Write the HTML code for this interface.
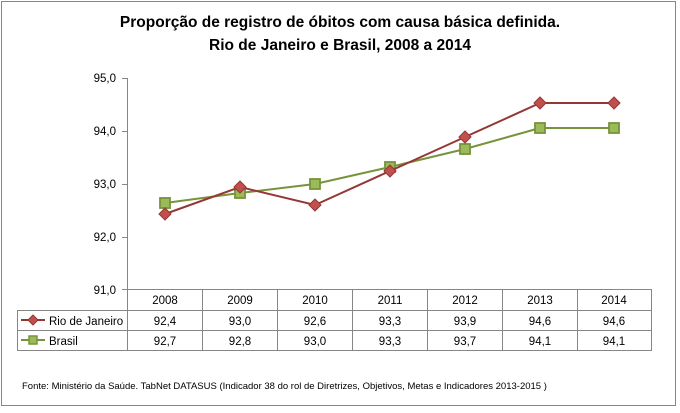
<!DOCTYPE html>
<html><head><meta charset="utf-8"><style>
body{margin:0;width:680px;height:408px;background:#fff;font-family:"Liberation Sans",sans-serif;}
</style></head><body>
<svg width="680" height="408" xmlns="http://www.w3.org/2000/svg" font-family="Liberation Sans, sans-serif">
<rect x="1.5" y="1.5" width="674" height="404" fill="#fff" stroke="#868686"/>
<text x="340" y="27" text-anchor="middle" font-size="15.5" font-weight="bold">Proporção de registro de óbitos com causa básica definida.</text>
<text x="340" y="50" text-anchor="middle" font-size="15.5" font-weight="bold">Rio de Janeiro e Brasil, 2008 a 2014</text>
<g stroke="#868686" stroke-width="1">
<line x1="127.5" y1="78" x2="127.5" y2="290"/>
<line x1="122" y1="78.5" x2="127" y2="78.5"/>
<line x1="122" y1="131.5" x2="127" y2="131.5"/>
<line x1="122" y1="184.5" x2="127" y2="184.5"/>
<line x1="122" y1="237.5" x2="127" y2="237.5"/>
<line x1="122" y1="289.5" x2="652" y2="289.5"/>
<line x1="17" y1="310.5" x2="652" y2="310.5"/>
<line x1="17" y1="330.5" x2="652" y2="330.5"/>
<line x1="17" y1="350.5" x2="652" y2="350.5"/>
<line x1="17.5" y1="310" x2="17.5" y2="350"/>
<line x1="127.5" y1="290" x2="127.5" y2="350"/>
<line x1="202.5" y1="290" x2="202.5" y2="350"/>
<line x1="277.5" y1="290" x2="277.5" y2="350"/>
<line x1="352.5" y1="290" x2="352.5" y2="350"/>
<line x1="427.5" y1="290" x2="427.5" y2="350"/>
<line x1="502.5" y1="290" x2="502.5" y2="350"/>
<line x1="577.5" y1="290" x2="577.5" y2="350"/>
<line x1="651.5" y1="290" x2="651.5" y2="350"/>
</g>
<g font-size="11.5" text-anchor="end">
<text x="116" y="82">95,0</text><text x="116" y="135">94,0</text><text x="116" y="188">93,0</text><text x="116" y="241">92,0</text><text x="116" y="294">91,0</text>
</g>
<g font-size="11.5" text-anchor="middle">
<text x="165" y="304">2008</text><text x="240" y="304">2009</text><text x="315" y="304">2010</text><text x="390" y="304">2011</text><text x="465" y="304">2012</text><text x="540" y="304">2013</text><text x="614" y="304">2014</text>
<text x="165" y="325">92,4</text><text x="240" y="325">93,0</text><text x="315" y="325">92,6</text><text x="390" y="325">93,3</text><text x="465" y="325">93,9</text><text x="540" y="325">94,6</text><text x="614" y="325">94,6</text>
<text x="165" y="345">92,7</text><text x="240" y="345">92,8</text><text x="315" y="345">93,0</text><text x="390" y="345">93,3</text><text x="465" y="345">93,7</text><text x="540" y="345">94,1</text><text x="614" y="345">94,1</text>
</g>
<g font-size="11.5"><text x="49" y="325">Rio de Janeiro</text><text x="49" y="345">Brasil</text></g>
<line x1="21" y1="320" x2="45" y2="320" stroke="#953735" stroke-width="2"/>
<path d="M33 315 L38 320 L33 325 L28 320Z" fill="#C0504D" stroke="#953735"/>
<line x1="21" y1="340" x2="45" y2="340" stroke="#77933C" stroke-width="2"/>
<rect x="29" y="336" width="8" height="8" fill="#9BBB59" stroke="#77933C" stroke-width="1.5"/>
<polyline fill="none" stroke="#77933C" stroke-width="2" points="165,203 240,193 315,184 390,167 465,149 540,128 614,128"/>
<g fill="#9BBB59" stroke="#77933C" stroke-width="1.8">
<rect x="160" y="198" width="10" height="10"/><rect x="235" y="188" width="10" height="10"/><rect x="310" y="179" width="10" height="10"/><rect x="385" y="162" width="10" height="10"/><rect x="460" y="144" width="10" height="10"/><rect x="535" y="123" width="10" height="10"/><rect x="609" y="123" width="10" height="10"/>
</g>
<polyline fill="none" stroke="#953735" stroke-width="2" points="165,214 240,187 315,205 390,171 465,137 540,103 614,103"/>
<g fill="#C0504D" stroke="#953735">
<path d="M165 208 L171 214 L165 220 L159 214Z"/><path d="M240 181 L246 187 L240 193 L234 187Z"/><path d="M315 199 L321 205 L315 211 L309 205Z"/><path d="M390 165 L396 171 L390 177 L384 171Z"/><path d="M465 131 L471 137 L465 143 L459 137Z"/><path d="M540 97 L546 103 L540 109 L534 103Z"/><path d="M614 97 L620 103 L614 109 L608 103Z"/>
</g>
<text x="22" y="389" font-size="9.5">Fonte: Ministério da Saúde. TabNet DATASUS (Indicador 38 do rol de Diretrizes, Objetivos, Metas e Indicadores 2013-2015 )</text>
</svg>
</body></html>
